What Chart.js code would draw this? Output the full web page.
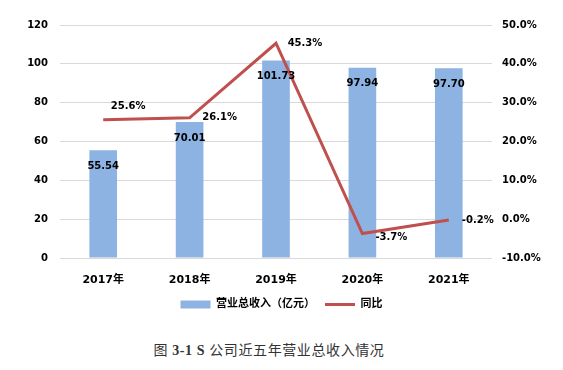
<!DOCTYPE html>
<html>
<head>
<meta charset="utf-8">
<script src="https://cdn.jsdelivr.net/npm/chart.js@4.4.1/dist/chart.umd.min.js"></script>
<style>
  body { margin: 0; background: #fff; }
  #wrap { position: relative; width: 563px; height: 370px; }
  #box { position: absolute; left: 0; top: 0; width: 563px; height: 320px; }
  #caption {
    position: absolute; left: 0; top: 339px; width: 538px; text-align: center; letter-spacing: 0.6px;
    font-family: "Liberation Serif", "Noto Sans CJK SC", serif; font-size: 14px; color: #333;
  }
  #caption b { font-family: "Liberation Serif", serif; }
</style>
</head>
<body>
<div id="wrap">
  <div id="box"><canvas id="chart_ingresos"></canvas></div>
  <div id="caption">图 <b>3-1 S</b> 公司近五年营业总收入情况</div>
</div>
<script>
// datos del grafico
var anios = ["2017年", "2018年", "2019年", "2020年", "2021年"];
var ingresos = [55.54, 70.01, 101.73, 97.94, 97.70];
var tasaAnual = [25.6, 26.1, 45.3, -3.7, -0.2];
var ticksIzq = [0, 20, 40, 60, 80, 100, 120];
var ticksDer = [-10, 0, 10, 20, 30, 40, 50];

var fuenteNum = '"DejaVu Sans", sans-serif';
var fuenteCJK = '"DejaVu Sans", "Noto Sans CJK SC", sans-serif';

// etiquetas de valores
var etiquetas = {
    id: 'etiquetas',
    afterDatasetsDraw: function(chart) {
        var ctx = chart.ctx;
        ctx.save();
        ctx.font = 'bold 10px ' + fuenteNum;
        ctx.fillStyle = '#000';
        ctx.textAlign = 'center';
        ctx.textBaseline = 'middle';
        chart.getDatasetMeta(0).data.forEach(function(barra, i) {
            ctx.fillText(ingresos[i].toFixed(2), barra.x, barra.y + 16);
        });
        var desp = [[25, -13], [30, 0], [29, 0], [29, 4], [29, 0]];
        chart.getDatasetMeta(1).data.forEach(function(p, i) {
            ctx.fillText(tasaAnual[i].toFixed(1) + '%', p.x + desp[i][0], p.y + desp[i][1]);
        });
        ctx.restore();
    }
};

function chartCreate() {
    const data = {
        labels: anios,
        datasets: [{
            type: 'bar',
            label: '营业总收入（亿元）',
            data: ingresos,
            backgroundColor: '#8DB3E2',
            borderWidth: 0,
            barPercentage: 0.32,
            categoryPercentage: 1,
            yAxisID: 'y',
            order: 1
        }, {
            type: 'line',
            label: '同比',
            data: tasaAnual,
            borderColor: '#C0504D',
            backgroundColor: '#C0504D',
            borderWidth: 3,
            pointRadius: 0,
            tension: 0,
            yAxisID: 'y2',
            order: 0
        }]
    };
    const config = {
        type: 'bar',
        data: data,
        options: {
            responsive: true,
            maintainAspectRatio: false,
            animation: false,
            layout: { padding: { top: 25, left: 0, right: 0, bottom: 0 } },
            plugins: {
                tooltip: { enabled: false },
                legend: {
                    position: 'bottom',
                    labels: {
                        usePointStyle: true,
                        pointStyleWidth: 30,
                        boxHeight: 8,
                        color: '#000',
                        padding: 10,
                        font: { family: fuenteCJK, size: 11, weight: 'bold' },
                        sort: function(a, b) { return a.datasetIndex - b.datasetIndex; },
                        generateLabels: function(chart) {
                            var items = Chart.defaults.plugins.legend.labels.generateLabels(chart);
                            items.forEach(function(it) {
                                if (it.datasetIndex === 0) {
                                    it.pointStyle = 'rect';
                                    it.lineWidth = 0;
                                } else {
                                    it.pointStyle = 'line';
                                    it.lineWidth = 3;
                                }
                            });
                            return items;
                        }
                    }
                }
            },
            scales: {
                x: {
                    grid: { display: false },
                    border: { display: false },
                    ticks: { color: '#000', padding: 8, font: { family: fuenteCJK, size: 11, weight: 'bold' } },
                    afterFit: function(s) { s.height = 31; }
                },
                y: {
                    position: 'left',
                    min: 0,
                    max: 120,
                    afterBuildTicks: function(s) { s.ticks = ticksIzq.map(function(v) { return { value: v }; }); },
                    grid: { color: '#D9D9D9', lineWidth: 1, drawTicks: false },
                    border: { display: false },
                    ticks: { color: '#000', padding: 12, font: { family: fuenteNum, size: 10, weight: 'bold' } },
                    afterFit: function(s) { s.width = 60; }
                },
                y2: {
                    position: 'right',
                    min: -10,
                    max: 50,
                    afterBuildTicks: function(s) { s.ticks = ticksDer.map(function(v) { return { value: v }; }); },
                    grid: { display: false, drawTicks: false },
                    border: { display: false },
                    ticks: {
                        color: '#000',
                        padding: 10,
                        font: { family: fuenteNum, size: 10, weight: 'bold' },
                        callback: function(v) { return v.toFixed(1) + '%'; }
                    },
                    afterFit: function(s) { s.width = 71; }
                }
            }
        },
        plugins: [etiquetas]
    };
    const myChart = new Chart(document.getElementById('chart_ingresos'), config);
}

window.onload = function() {
    chartCreate();
};
</script>
</body>
</html>
